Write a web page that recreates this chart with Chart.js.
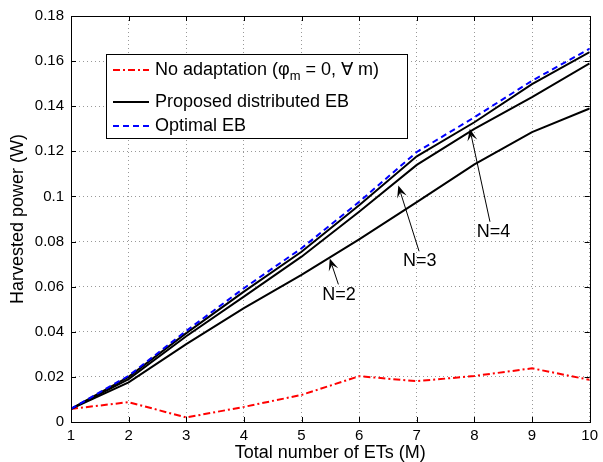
<!DOCTYPE html>
<html>
<head>
<meta charset="utf-8">
<script src="https://cdn.jsdelivr.net/npm/chart.js@4/dist/chart.umd.min.js"></script>
<style>
  html, body { margin: 0; padding: 0; background: #fff; }
  canvas { display: block; }
</style>
</head>
<body>
<canvas id="ebChart" width="603" height="462"></canvas>
<script>
// number of ETs (M)
const etCounts = [1, 2, 3, 4, 5, 6, 7, 8, 9, 10];

// harvested power (W)
const noAdaptation = [0.0058, 0.0088, 0.0020, 0.0067, 0.0120, 0.0203, 0.0181, 0.0204, 0.0238, 0.0187];
const proposedN2 = [0.0058, 0.0176, 0.0345, 0.0505, 0.0652, 0.0810, 0.0975, 0.1142, 0.1285, 0.1390];
const proposedN3 = [0.0058, 0.0190, 0.0380, 0.0556, 0.0733, 0.0932, 0.1140, 0.1300, 0.1440, 0.1590];
const proposedN4 = [0.0058, 0.0200, 0.0394, 0.0578, 0.0755, 0.0961, 0.1178, 0.1329, 0.1498, 0.1640];
const optimalEB = [0.0058, 0.0205, 0.0404, 0.0593, 0.0770, 0.0976, 0.1197, 0.1351, 0.1513, 0.1655];

const xTicks = [1, 2, 3, 4, 5, 6, 7, 8, 9, 10];
const yTicks = [0, 0.02, 0.04, 0.06, 0.08, 0.1, 0.12, 0.14, 0.16, 0.18];

// N=... labels: [text, label x, label y, arrow tail x, tail y, head x, head y]
const arrowNotes = [
  ['N=2', 5.65, 0.0563, 5.64, 0.0610, 5.49, 0.0725],
  ['N=3', 7.05, 0.0713, 7.04, 0.0757, 6.68, 0.1048],
  ['N=4', 8.33, 0.0843, 8.27, 0.0888, 7.92, 0.1300]
];

const FONT = "'Liberation Sans', Arial, Helvetica, sans-serif";

function pts(arr) {
  return arr.map((v, i) => ({ x: etCounts[i], y: v }));
}

// black box + inward ticks, like the matlab axes
const framePlugin = {
  id: 'frame',
  afterDatasetsDraw(chart) {
    const { ctx, chartArea: a, scales } = chart;
    ctx.save();
    ctx.strokeStyle = '#000';
    ctx.lineWidth = 1;
    ctx.beginPath();
    xTicks.forEach(v => {
      const px = Math.round(scales.x.getPixelForValue(v)) + 0.5;
      ctx.moveTo(px, a.bottom); ctx.lineTo(px, a.bottom - 5);
      ctx.moveTo(px, a.top); ctx.lineTo(px, a.top + 5);
    });
    yTicks.forEach(v => {
      const py = Math.round(scales.y.getPixelForValue(v)) + 0.5;
      ctx.moveTo(a.left, py); ctx.lineTo(a.left + 5, py);
      ctx.moveTo(a.right, py); ctx.lineTo(a.right - 5, py);
    });
    ctx.stroke();
    ctx.strokeRect(Math.round(a.left) + 0.5, Math.round(a.top) + 0.5,
      Math.round(a.right - a.left), Math.round(a.bottom - a.top));
    ctx.restore();
  }
};

function drawArrow(ctx, x0, y0, x1, y1) {
  const ang = Math.atan2(y1 - y0, x1 - x0);
  const len = 12, wid = 5, notch = 7;
  ctx.beginPath();
  ctx.moveTo(x0, y0);
  ctx.lineTo(x1 - Math.cos(ang) * notch, y1 - Math.sin(ang) * notch);
  ctx.stroke();
  const bx = x1 - Math.cos(ang) * len, by = y1 - Math.sin(ang) * len;
  const nx = -Math.sin(ang), ny = Math.cos(ang);
  ctx.beginPath();
  ctx.moveTo(x1, y1);
  ctx.lineTo(bx + nx * wid, by + ny * wid);
  ctx.lineTo(x1 - Math.cos(ang) * notch, y1 - Math.sin(ang) * notch);
  ctx.lineTo(bx - nx * wid, by - ny * wid);
  ctx.closePath();
  ctx.fill();
}

const notesPlugin = {
  id: 'notes',
  afterDatasetsDraw(chart) {
    const { ctx, scales: { x, y } } = chart;
    ctx.save();
    ctx.strokeStyle = '#000';
    ctx.fillStyle = '#000';
    ctx.lineWidth = 1;
    ctx.font = '18px ' + FONT;
    ctx.textAlign = 'center';
    ctx.textBaseline = 'middle';
    arrowNotes.forEach(n => {
      ctx.fillText(n[0], x.getPixelForValue(n[1]), y.getPixelForValue(n[2]));
      drawArrow(ctx, x.getPixelForValue(n[3]), y.getPixelForValue(n[4]),
        x.getPixelForValue(n[5]), y.getPixelForValue(n[6]));
    });
    ctx.restore();
  }
};

// legend box in the upper left corner
const legendPlugin = {
  id: 'boxLegend',
  afterDraw(chart) {
    const { ctx } = chart;
    const bx = 106, by = 54, bw = 301, bh = 84;
    ctx.save();
    ctx.fillStyle = '#fff';
    ctx.fillRect(bx, by, bw, bh);
    ctx.strokeStyle = '#000';
    ctx.lineWidth = 1;
    ctx.strokeRect(bx + 0.5, by + 0.5, bw, bh);

    const rows = [
      { y: 70, color: '#ff0000', dash: [7, 3, 2, 3] },
      { y: 102, color: '#000000', dash: [] },
      { y: 126, color: '#0000ff', dash: [6, 4] }
    ];
    rows.forEach(r => {
      ctx.strokeStyle = r.color;
      ctx.lineWidth = 2;
      ctx.setLineDash(r.dash);
      ctx.beginPath();
      ctx.moveTo(113, r.y);
      ctx.lineTo(149, r.y);
      ctx.stroke();
    });
    ctx.setLineDash([]);

    ctx.fillStyle = '#000';
    ctx.textBaseline = 'middle';
    ctx.textAlign = 'left';
    const big = '18px ' + FONT, small = '13px ' + FONT;
    let tx = 155;
    ctx.font = big;
    let s = 'No adaptation (\u03c6';
    ctx.fillText(s, tx, rows[0].y);
    tx += ctx.measureText(s).width;
    ctx.font = small;
    ctx.fillText('m', tx, rows[0].y + 6);
    tx += ctx.measureText('m').width;
    ctx.font = big;
    ctx.fillText(' = 0, \u2200 m)', tx, rows[0].y);
    ctx.fillText('Proposed distributed EB', 155, rows[1].y);
    ctx.fillText('Optimal EB', 155, rows[2].y);
    ctx.restore();
  }
};

const gridCfg = { color: 'rgba(0,0,0,0.4)', lineWidth: 1, drawTicks: false };
const borderCfg = { display: false, dash: [1, 3] };

new Chart(document.getElementById('ebChart'), {
  type: 'line',
  data: {
    datasets: [
      { label: 'Optimal EB', data: pts(optimalEB), borderColor: '#0000ff', borderWidth: 2, borderDash: [6, 4], order: 0 },
      { label: 'N=4', data: pts(proposedN4), borderColor: '#000', borderWidth: 2, order: 1 },
      { label: 'N=3', data: pts(proposedN3), borderColor: '#000', borderWidth: 2, order: 1 },
      { label: 'N=2', data: pts(proposedN2), borderColor: '#000', borderWidth: 2, order: 1 },
      { label: 'No adaptation', data: pts(noAdaptation), borderColor: '#ff0000', borderWidth: 2, borderDash: [7, 3, 2, 3], order: 2 }
    ]
  },
  options: {
    responsive: false,
    animation: false,
    layout: { padding: { top: 15, right: 9, left: 0, bottom: 0 } },
    elements: { point: { radius: 0 }, line: { tension: 0, fill: false } },
    plugins: { legend: { display: false }, tooltip: { enabled: false } },
    scales: {
      x: {
        type: 'linear', min: 1, max: 10,
        afterBuildTicks: s => { s.ticks = xTicks.map(v => ({ value: v })); },
        afterFit: s => { s.height = 40; },
        grid: gridCfg, border: borderCfg,
        ticks: { color: '#000', padding: 5, maxRotation: 0, font: { size: 15, family: FONT },
          callback: v => String(v) },
        title: { display: true, text: 'Total number of ETs (M)', color: '#000',
          font: { size: 18, family: FONT, lineHeight: 1.0 }, padding: { top: 0, bottom: 0 } }
      },
      y: {
        type: 'linear', min: 0, max: 0.18,
        afterBuildTicks: s => { s.ticks = yTicks.map(v => ({ value: v })); },
        afterFit: s => { s.width = 71; },
        grid: gridCfg, border: borderCfg,
        ticks: { color: '#000', padding: 7, font: { size: 15, family: FONT },
          callback: v => String(+v.toFixed(2)) },
        title: { display: true, text: 'Harvested power (W)', color: '#000',
          font: { size: 18, family: FONT }, padding: { top: 7, bottom: 0 } }
      }
    }
  },
  plugins: [framePlugin, notesPlugin, legendPlugin]
});
</script>
</body>
</html>
